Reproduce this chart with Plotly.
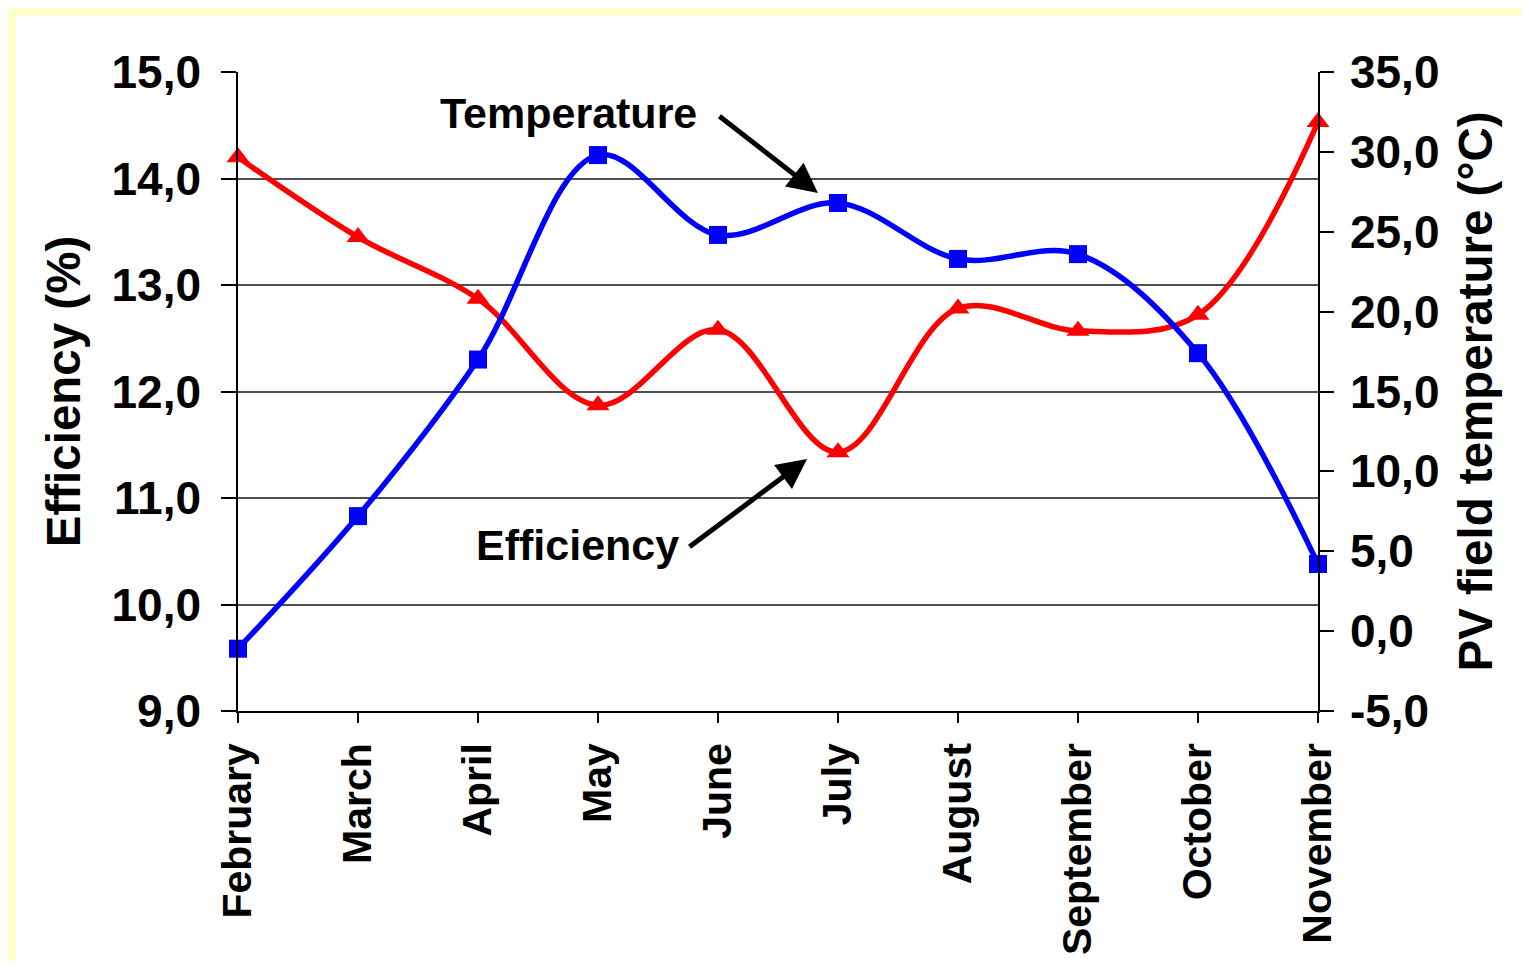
import plotly.graph_objects as go

# Monthly data
months = ["February", "March", "April", "May", "June", "July",
          "August", "September", "October", "November"]
efficiency = [14.20, 13.45, 12.87, 11.87, 12.58, 11.43, 12.78, 12.57, 12.72, 14.53]
temperature = [-1.1, 7.2, 17.0, 29.8, 24.8, 26.8, 23.3, 23.6, 17.4, 4.2]

# right axis ticks (Excel style, plain hyphen for the minus sign)
temp_ticks = [-5, 0, 5, 10, 15, 20, 25, 30, 35]
temp_tick_labels = ["-5,0", "0,0", "5,0", "10,0", "15,0", "20,0", "25,0", "30,0", "35,0"]

FONT = "Liberation Sans, Arial, sans-serif"
BLACK = "#000000"
FRAME = "#FFFFCC"

fig = go.Figure()

fig.add_trace(go.Scatter(
    x=months, y=efficiency, name="Efficiency",
    mode="lines+markers",
    line=dict(color="#FF0000", width=5.5, shape="spline", smoothing=1.0),
    marker=dict(symbol="triangle-up", size=20, color="#FF0000"),
    yaxis="y", cliponaxis=False,
))
fig.add_trace(go.Scatter(
    x=months, y=temperature, name="Temperature",
    mode="lines+markers",
    line=dict(color="#0000FF", width=5.5, shape="spline", smoothing=1.0),
    marker=dict(symbol="square", size=18, color="#0000FF"),
    yaxis="y2", cliponaxis=False,
))

tickfont = dict(family=FONT, size=46, color=BLACK, weight="bold")
titlefont = dict(family=FONT, size=47.5, color=BLACK, weight="bold")

# the page adds an 8px body margin, so the figure is 16px smaller and the
# margins are 8px smaller to keep the plot area where it is in the reference
fig.update_layout(
    template="none",
    width=1513, height=953,
    margin=dict(l=230, r=203, t=64, b=250),
    paper_bgcolor="#FFFFFF",
    plot_bgcolor="#FFFFFF",
    separators=",.",
    showlegend=False,
    font=dict(family=FONT, color=BLACK),
    xaxis=dict(
        type="category", range=[0, 9], automargin=False,
        tickangle=-90, tickfont=dict(family=FONT, size=41, color=BLACK, weight="bold"),
        ticks="outside", ticklen=10, tickcolor=BLACK, tickwidth=1.5,
        showline=True, linecolor=BLACK, linewidth=1.5,
        showgrid=False, zeroline=False, ticklabelstandoff=4,
    ),
    yaxis=dict(
        range=[9, 15], dtick=1, tickformat=".1f", automargin=False,
        tickfont=tickfont,
        ticks="outside", ticklen=15, tickcolor=BLACK, tickwidth=1.5,
        showline=True, linecolor=BLACK, linewidth=1.5,
        showgrid=True, gridcolor="#505050", gridwidth=1.5, zeroline=False,
        ticklabelstandoff=11,
        title=dict(text="Efficiency (%)", font=titlefont, standoff=16),
    ),
    yaxis2=dict(
        range=[-5, 35], tickvals=temp_ticks, ticktext=temp_tick_labels,
        automargin=False,
        overlaying="y", side="right", anchor="x",
        tickfont=tickfont,
        ticks="outside", ticklen=14, tickcolor=BLACK, tickwidth=1.5,
        showline=True, linecolor=BLACK, linewidth=1.5,
        showgrid=False, zeroline=False, ticklabelstandoff=7,
        title=dict(text="PV field temperature (°C)", font=titlefont, standoff=20),
    ),
    # inner half of the crossing tick marks on the right axis
    yaxis3=dict(
        range=[-5, 35], tickvals=temp_ticks, overlaying="y", side="right", anchor="x",
        automargin=False,
        ticks="inside", ticklen=13, tickcolor=BLACK, tickwidth=1.5,
        showticklabels=False, showgrid=False, zeroline=False, showline=False,
    ),
)

# pale yellow frame along the top and left edges
fig.add_shape(type="rect", xref="paper", yref="paper",
              x0=-0.5, x1=1.5, y0=1.0877, y1=1.3,
              fillcolor=FRAME, line=dict(width=0), layer="below")
fig.add_shape(type="rect", xref="paper", yref="paper",
              x0=-0.5, x1=-0.2056, y0=-0.5, y1=1.3,
              fillcolor=FRAME, line=dict(width=0), layer="below")

# text labels with arrows
fig.add_annotation(xref="paper", yref="paper", x=0.3056, y=0.9358,
                   xanchor="center", yanchor="middle",
                   text="Temperature", showarrow=False,
                   font=dict(family=FONT, size=43, color=BLACK, weight="bold"))
fig.add_annotation(xref="paper", yref="paper", x=0.3139, y=0.2598,
                   xanchor="center", yanchor="middle",
                   text="Efficiency", showarrow=False,
                   font=dict(family=FONT, size=43, color=BLACK, weight="bold"))
fig.add_annotation(xref="x domain", yref="y domain", axref="x domain", ayref="y domain",
                   x=0.537, y=0.8106, ax=0.4444, ay=0.9327, text="",
                   showarrow=True, arrowhead=2, arrowsize=1.2, arrowwidth=5,
                   arrowcolor=BLACK)
fig.add_annotation(xref="x domain", yref="y domain", axref="x domain", ayref="y domain",
                   x=0.5269, y=0.3944, ax=0.4167, ay=0.2551, text="",
                   showarrow=True, arrowhead=2, arrowsize=1.2, arrowwidth=5,
                   arrowcolor=BLACK)

fig.write_html("out.html")
